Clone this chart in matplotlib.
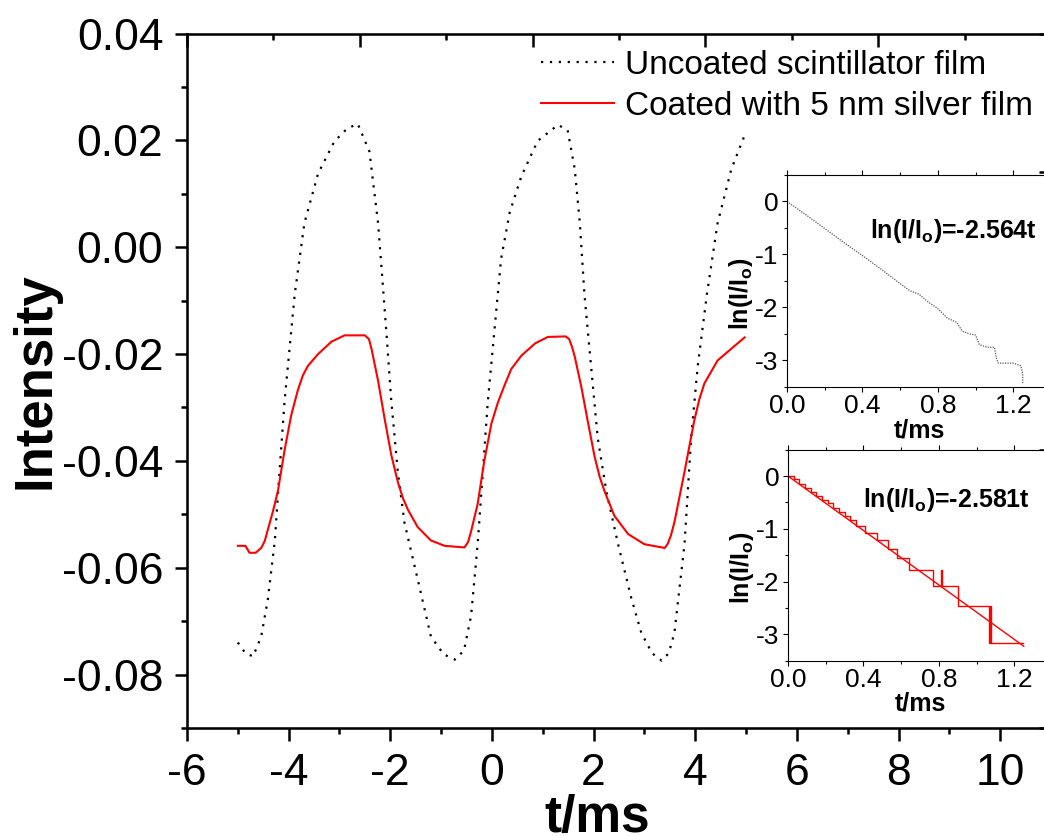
import matplotlib
matplotlib.use('Agg')
import matplotlib.pyplot as plt
from matplotlib.ticker import MultipleLocator, FormatStrFormatter

plt.rcParams['font.family'] = ['Liberation Sans', 'DejaVu Sans']
plt.rcParams['axes.unicode_minus'] = False
plt.rcParams['mathtext.fontset'] = 'custom'
plt.rcParams['mathtext.rm'] = 'Liberation Sans'
plt.rcParams['mathtext.bf'] = 'Liberation Sans:bold'

# main traces
uncoated_t = [-5.00, -4.85, -4.70, -4.54, -4.41, -4.27, -4.21, -4.08, -3.88, -3.69, -3.42, -3.10,
              -2.85, -2.64, -2.41, -2.24, -2.16, -2.08, -1.98, -1.85, -1.72, -1.46, -1.20, -0.95,
              -0.73, -0.55, -0.41, -0.28, -0.08, 0.05, 0.18, 0.35, 0.58, 0.90, 1.30, 1.49, 1.63,
              1.73, 1.82, 1.95, 2.08, 2.25, 2.48, 2.74, 2.94, 3.15, 3.34, 3.48, 3.59, 3.79, 3.92,
              4.05, 4.23, 4.44, 4.71, 4.97]
uncoated_I = [-0.0740, -0.0760, -0.0766, -0.0729, -0.0660, -0.0548, -0.0462, -0.0288, -0.0088,
              0.0045, 0.0138, 0.0198, 0.0222, 0.0231, 0.0179, 0.0045, -0.0054, -0.0155, -0.0288,
              -0.0422, -0.0516, -0.0622, -0.0729, -0.0762, -0.0772, -0.0755, -0.0690, -0.0555,
              -0.0288, -0.0155, -0.0022, 0.0065, 0.0133, 0.0199, 0.0229, 0.0219, 0.0146, 0.0045,
              -0.0088, -0.0222, -0.0356, -0.0456, -0.0555, -0.0656, -0.0722, -0.0760, -0.0774,
              -0.0760, -0.0722, -0.0555, -0.0356, -0.0222, -0.0088, 0.0045, 0.0146, 0.0209]

coated_t = [-5.00, -4.85, -4.77, -4.65, -4.54, -4.47, -4.41, -4.31, -4.21, -4.08, -3.95, -3.82,
            -3.72, -3.62, -3.42, -3.16, -2.90, -2.50, -2.42, -2.37, -2.24, -2.11, -1.98, -1.85,
            -1.75, -1.65, -1.46, -1.20, -0.93, -0.54, -0.47, -0.41, -0.28, -0.15, -0.01, 0.12,
            0.25, 0.38, 0.58, 0.85, 1.10, 1.45, 1.52, 1.58, 1.63, 1.76, 1.89, 2.02, 2.12, 2.22,
            2.41, 2.68, 3.00, 3.40, 3.46, 3.52, 3.59, 3.79, 3.98, 4.08, 4.18, 4.44, 4.71, 4.97]
coated_I = [-0.0559, -0.0559, -0.0572, -0.0572, -0.0563, -0.0550, -0.0529, -0.0495, -0.0456,
            -0.0380, -0.0315, -0.0268, -0.0240, -0.0222, -0.0200, -0.0177, -0.0165, -0.0165,
            -0.0172, -0.0190, -0.0250, -0.0322, -0.0389, -0.0440, -0.0470, -0.0492, -0.0524,
            -0.0549, -0.0559, -0.0562, -0.0552, -0.0532, -0.0480, -0.0400, -0.0330, -0.0290,
            -0.0258, -0.0228, -0.0203, -0.0180, -0.0168, -0.0167, -0.0172, -0.0188, -0.0205,
            -0.0262, -0.0328, -0.0392, -0.0430, -0.0458, -0.0503, -0.0537, -0.0556, -0.0563,
            -0.0555, -0.0540, -0.0515, -0.0420, -0.0325, -0.0285, -0.0255, -0.0212, -0.0190,
            -0.0169]

# inset 1: uncoated decay
decay1_t = [0.00, 0.10, 0.20, 0.30, 0.40, 0.50, 0.60, 0.65, 0.70, 0.75, 0.80, 0.85, 0.90, 0.93,
            0.97, 1.00, 1.02, 1.06, 1.10, 1.11, 1.12, 1.20, 1.24, 1.25, 1.25]
decay1_ln = [0.00, -0.25, -0.51, -0.77, -1.02, -1.28, -1.55, -1.68, -1.75, -1.90, -2.02, -2.20,
             -2.28, -2.45, -2.50, -2.52, -2.70, -2.75, -2.75, -2.95, -3.05, -3.05, -3.10, -3.25,
             -3.45]

# inset 2: coated decay (stepped) and fit
decay2_t = [0.00, 0.03, 0.06, 0.09, 0.12, 0.15, 0.18, 0.21, 0.24, 0.27, 0.30, 0.33, 0.36, 0.41,
            0.47, 0.53, 0.58, 0.64, 0.77, 0.81, 0.815, 0.90, 1.067, 1.071, 1.075, 1.245]
decay2_ln = [0.00, -0.06, -0.15, -0.22, -0.30, -0.38, -0.45, -0.52, -0.60, -0.68, -0.76, -0.84,
             -0.95, -1.07, -1.21, -1.39, -1.56, -1.78, -2.08, -1.78, -2.08, -2.47, -3.17, -2.47,
             -3.17, -3.17]
fit2_t = [0.0, 1.25]
fit2_ln = [0.0, -3.226]

fig = plt.figure(figsize=(10.44, 8.36), dpi=100)
ax = fig.add_axes([0.1791, 0.1292, 0.8276, 0.8307])

dots = (0, (1, 3))
ax.plot(uncoated_t, uncoated_I, color='black', lw=1.6, linestyle=dots,
        label='Uncoated scintillator film')
ax.plot(coated_t, coated_I, color='red', lw=1.5, label='Coated with 5 nm silver film')

ax.set_xlim(-6, 11)
ax.set_ylim(-0.09, 0.04)
ax.xaxis.set_major_locator(MultipleLocator(2))
ax.xaxis.set_minor_locator(MultipleLocator(1))
ax.yaxis.set_major_locator(MultipleLocator(0.02))
ax.yaxis.set_minor_locator(MultipleLocator(0.01))
ax.yaxis.set_major_formatter(FormatStrFormatter('%.2f'))
ax.tick_params(which='major', direction='out', length=9, width=1.8, labelsize=32)
ax.tick_params(which='minor', direction='out', length=4.5, width=1.8)
ax.tick_params(axis='y', pad=8)
ax.tick_params(axis='x', pad=9)
for s in ax.spines.values():
    s.set_linewidth(1.8)

ax.set_ylabel('Intensity', fontsize=38, fontweight='bold')
ax.yaxis.set_label_coords(-0.146, 0.5)
ax.set_xlabel('t/ms', fontsize=37, fontweight='bold', va='top')
ax.xaxis.set_label_coords(0.475, -0.095)

# Origin-style top/right axes with their own divisions
ax_top = ax.twiny()
ax_top.set_xlim(0, 5)
ax_top.xaxis.set_major_locator(MultipleLocator(1))
ax_top.xaxis.set_minor_locator(MultipleLocator(0.5))
ax_top.tick_params(axis='x', which='major', direction='in', length=9, width=1.8, labeltop=False)
ax_top.tick_params(axis='x', which='minor', direction='in', length=4.5, width=1.8)
ax_right = ax.twinx()
ax_right.set_ylim(0, 5)
ax_right.yaxis.set_major_locator(MultipleLocator(1))
ax_right.yaxis.set_minor_locator(MultipleLocator(0.5))
ax_right.tick_params(axis='y', which='major', direction='in', length=9, width=1.8, labelright=False)
ax_right.tick_params(axis='y', which='minor', direction='in', length=4.5, width=1.8)

leg = ax.legend(loc='upper right', bbox_to_anchor=(1033 / 1044, 1 - 50 / 836),
                bbox_transform=fig.transFigure, frameon=False, fontsize=24,
                handlelength=2.2, handletextpad=0.33, labelspacing=0.3,
                borderpad=0, borderaxespad=0)


def style_inset(a, fit_text, text_xy):
    a.set_xlim(0, 1.4)
    a.set_ylim(-3.5, 0.5)
    a.xaxis.set_major_locator(MultipleLocator(0.4))
    a.xaxis.set_minor_locator(MultipleLocator(0.2))
    a.yaxis.set_major_locator(MultipleLocator(1))
    a.yaxis.set_minor_locator(MultipleLocator(0.5))
    a.xaxis.set_major_formatter(FormatStrFormatter('%.1f'))
    a.tick_params(which='major', direction='out', length=3.6, width=0.8, labelsize=19)
    a.tick_params(which='minor', direction='out', length=2.2, width=0.8)
    a.tick_params(axis='x', pad=1.5)
    a.tick_params(axis='y', pad=2.5)
    a.tick_params(axis='x', which='both', top=True)
    for s in a.spines.values():
        s.set_linewidth(0.8)
    a.set_xlabel('t/ms', fontsize=18, fontweight='bold', labelpad=0)
    a.set_ylabel(r'ln(I/I$_\mathbf{o}$)', fontsize=18, fontweight='bold')
    a.yaxis.set_label_coords(-0.12, 0.44)
    a.text(text_xy[0], text_xy[1], fit_text, fontsize=18, fontweight='bold', va='center')


in1 = fig.add_axes([0.7538, 0.5371, 0.2529, 0.2536])
in1.plot(decay1_t, decay1_ln, color='0.35', lw=0.9, linestyle=(0, (1, 1)))
style_inset(in1, r'ln(I/I$_\mathbf{o}$)=-2.564t', (0.44, -0.55))

in2 = fig.add_axes([0.7548, 0.2097, 0.2529, 0.2524])
in2.plot(decay2_t, decay2_ln, color='red', lw=1.0, drawstyle='steps-post')
in2.plot(fit2_t, fit2_ln, color='red', lw=1.0)
style_inset(in2, r'ln(I/I$_\mathbf{o}$)=-2.581t', (0.40, -0.45))

fig.savefig('out.png', dpi=100)
